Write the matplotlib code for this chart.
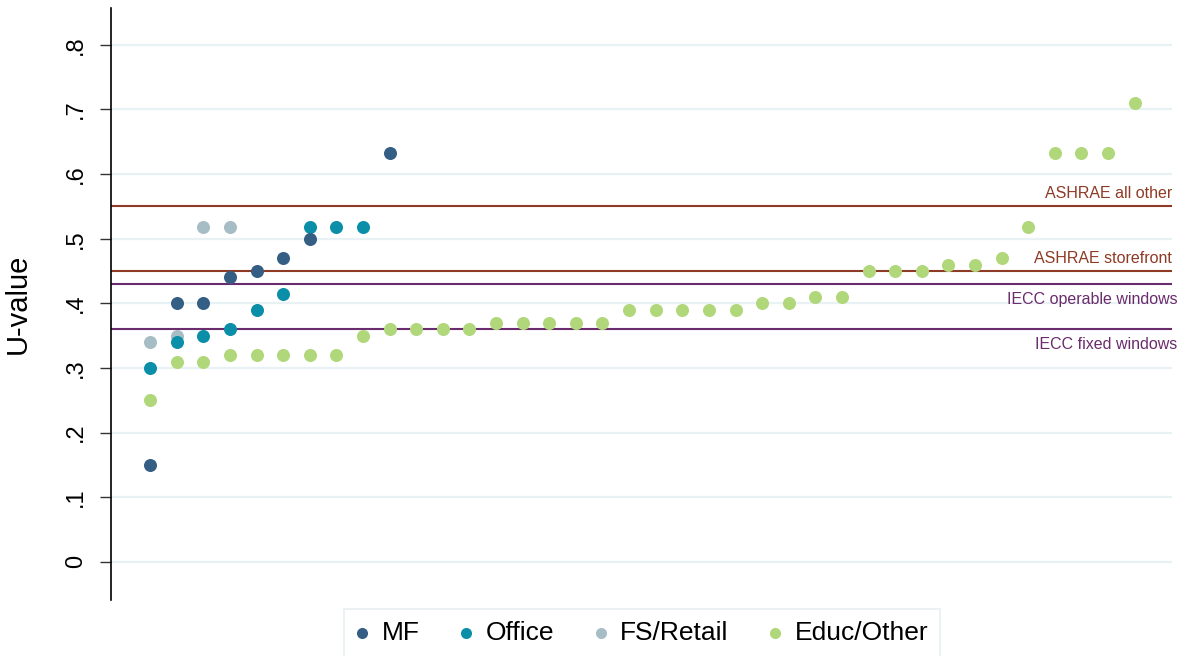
import numpy as np
import matplotlib.pyplot as plt

plt.rcParams['font.family'] = ['Liberation Sans', 'DejaVu Sans']

# U-values by building type, ranked position along x
mf_pos = [1, 2, 3, 4, 5, 6, 7, 10]
mf_u = [0.15, 0.40, 0.40, 0.44, 0.45, 0.47, 0.50, 0.632]

office_pos = [1, 2, 3, 4, 5, 6, 7, 8, 9]
office_u = [0.30, 0.34, 0.35, 0.36, 0.39, 0.415, 0.518, 0.518, 0.518]

retail_pos = [1, 2, 3, 4]
retail_u = [0.34, 0.35, 0.518, 0.518]

educ_pos = list(range(1, 39))
educ_u = [0.25, 0.31, 0.31, 0.32, 0.32, 0.32, 0.32, 0.32, 0.35, 0.36,
          0.36, 0.36, 0.36, 0.37, 0.37, 0.37, 0.37, 0.37, 0.39, 0.39,
          0.39, 0.39, 0.39, 0.40, 0.40, 0.41, 0.41, 0.45, 0.45, 0.45,
          0.46, 0.46, 0.47, 0.518, 0.632, 0.632, 0.632, 0.71]

# Code thresholds
ref_values = [0.55, 0.45, 0.43, 0.36]
ref_labels = ['ASHRAE all other', 'ASHRAE storefront', 'IECC operable windows', 'IECC fixed windows']
ref_colors = ['#8e3b25', '#8e3b25', '#6a2c6c', '#6a2c6c']

yticks = [0, 0.1, 0.2, 0.3, 0.4, 0.5, 0.6, 0.7, 0.8]
ytick_labels = ['0', '.1', '.2', '.3', '.4', '.5', '.6', '.7', '.8']

fig = plt.figure(figsize=(11.88, 6.56), dpi=100)
ax = fig.add_axes([0.0934, 0.0854, 0.8931, 0.9024])

ax.set_xlim(-0.47, 39.4)
ax.set_ylim(-0.059, 0.857)

# light horizontal grid
for t in yticks:
    ax.axhline(t, color='#e8f1f4', linewidth=1.6, zorder=0)

# threshold lines with labels
for val, lab, col in zip(ref_values, ref_labels, ref_colors):
    ax.axhline(val, color=col, linewidth=1.5, zorder=1)
    if lab.startswith('ASHRAE'):
        ax.text(39.4, val + 0.008, lab, color=col, fontsize=11.5, ha='right', va='bottom')
    else:
        ax.text(39.6, val - 0.012, lab, color=col, fontsize=11.5, ha='right', va='top')

ms = 88
ax.scatter(educ_pos, educ_u, s=ms, color='#b0d77a', label='Educ/Other', zorder=2, linewidths=0)
ax.scatter(retail_pos, retail_u, s=ms, color='#a7bdc5', label='FS/Retail', zorder=3, linewidths=0)
ax.scatter(office_pos, office_u, s=ms, color='#0b8ea8', label='Office', zorder=4, linewidths=0)
ax.scatter(mf_pos, mf_u, s=ms, color='#345e84', label='MF', zorder=5, linewidths=0)

ax.set_yticks(yticks)
ax.set_yticklabels(ytick_labels, rotation=90, va='center', fontsize=17)
ax.tick_params(axis='y', length=8, width=1, color='#333333', pad=9)
ax.set_xticks([])
ax.set_ylabel('U-value', fontsize=21, labelpad=24)

for side in ['top', 'right', 'bottom']:
    ax.spines[side].set_visible(False)
ax.spines['left'].set_linewidth(1.2)

handles, labels = ax.get_legend_handles_labels()
order = [3, 2, 1, 0]
leg = fig.legend([handles[i] for i in order], [labels[i] for i in order],
                 loc='upper center', bbox_to_anchor=(0.5404, 0.071), ncol=4,
                 fontsize=19, frameon=True, fancybox=False, markerscale=0.85,
                 handlelength=0.5, handletextpad=0.5, columnspacing=1.5,
                 borderpad=0.45, borderaxespad=0)
leg.get_frame().set_edgecolor('#e3ebee')
leg.get_frame().set_linewidth(1.2)

fig.savefig('out.png', dpi=100)
